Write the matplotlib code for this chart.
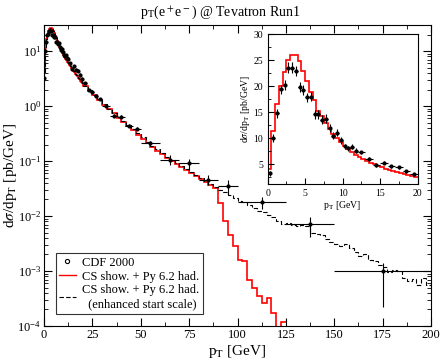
import numpy as np
import matplotlib
matplotlib.use('Agg')
import matplotlib.pyplot as plt
from matplotlib.lines import Line2D
from matplotlib.ticker import MultipleLocator, LogLocator, NullFormatter

plt.rcParams['font.family'] = ['Liberation Serif', 'DejaVu Serif']
plt.rcParams['mathtext.fontset'] = 'stix'

# --- CDF 2000 data, low pT (also shown in the inset) ---
cdf_lo_x = [0.25, 0.75, 1.25, 1.75, 2.25, 2.75, 3.25, 3.75, 4.25, 4.75, 5.25, 5.75,
            6.25, 6.75, 7.25, 7.75, 8.25, 8.75, 9.25, 9.75, 10.25, 10.75, 11.25, 11.75,
            12.5, 13.5, 14.5, 15.5, 16.5, 17.5, 18.5, 19.5]
cdf_lo_xerr = [0.25] * 24 + [0.5] * 8
cdf_lo_y = [3.3, 10.0, 14.8, 19.4, 20.2, 23.6, 23.6, 23.0, 19.9, 19.3, 17.9, 18.0,
            14.6, 14.6, 13.6, 13.8, 12.0, 10.5, 11.1, 9.6, 8.5, 8.1, 8.4, 7.6,
            7.3, 6.1, 4.8, 5.3, 4.6, 4.4, 3.7, 3.1]
cdf_lo_yerr = [0.5, 0.8, 0.9, 0.9, 1.0, 1.0, 1.0, 1.0, 1.0, 0.9, 0.9, 0.9,
               0.8, 0.8, 0.8, 0.8, 0.7, 0.7, 0.7, 0.6, 0.5, 0.5, 0.5, 0.5,
               0.35, 0.35, 0.3, 0.3, 0.3, 0.3, 0.3, 0.3]

# --- CDF 2000 data, high pT ---
cdf_hi_x = [21, 23, 25, 27, 29, 32, 36, 40, 44, 48, 55, 65, 75, 85, 95, 112.5, 137.5, 175]
cdf_hi_xerr = [1, 1, 1, 1, 1, 2, 2, 2, 2, 2, 5, 5, 5, 5, 5, 12.5, 12.5, 25]
cdf_hi_y = [2.6, 2.0, 1.78, 1.55, 1.35, 1.0, 0.67, 0.64, 0.44, 0.39, 0.21, 0.105,
            0.091, 0.045, 0.035, 0.018, 0.0071, 0.001]
cdf_hi_yerr_lo = [0.1, 0.08, 0.07, 0.06, 0.06, 0.05, 0.04, 0.04, 0.03, 0.03, 0.02, 0.02,
                  0.018, 0.008, 0.011, 0.0043, 0.0029, 0.00078]
cdf_hi_yerr_hi = [0.1, 0.08, 0.07, 0.06, 0.06, 0.05, 0.04, 0.04, 0.03, 0.03, 0.02, 0.023,
                  0.019, 0.011, 0.010, 0.0045, 0.0027, 0.00041]

# --- CS shower + Pythia 6.2 hadronisation, 0.5 GeV bins from 0 to 20 ---
cs_low = [4.2, 11.5, 16.6, 20.0, 22.8, 25.0, 26.0, 26.0, 24.8, 23.0, 21.0, 19.0,
          17.3, 15.3, 14.3, 13.0, 11.8, 10.8, 10.0, 9.2, 8.5, 7.9, 7.3, 6.8,
          6.4, 6.0, 5.7, 5.3, 5.0, 4.7, 4.4, 4.2, 3.9, 3.7, 3.5, 3.3, 3.1, 2.9, 2.7, 2.6]

# 2.5 GeV bins from 20 to 125
cs_high = [2.3, 1.9, 1.6, 1.3, 1.05, 0.88, 0.74, 0.61, 0.51, 0.43, 0.36, 0.30,
           0.255, 0.215, 0.18, 0.155, 0.135, 0.115, 0.10, 0.088, 0.077, 0.068, 0.060, 0.053,
           0.047, 0.042, 0.037, 0.032, 0.017, 0.0080, 0.0045, 0.0028, 0.0016, 0.0015, 0.0007, 0.0005,
           0.00035, 0.00026, 0.00032, 0.00017, 0.00005, 0.00012]

# enhanced start scale, 2.5 GeV bins from 20 to 200
cs_enh_high = [2.35, 1.95, 1.62, 1.33, 1.08, 0.90, 0.76, 0.63, 0.53, 0.45, 0.38, 0.32,
               0.27, 0.225, 0.19, 0.165, 0.14, 0.12, 0.105, 0.092, 0.080, 0.071, 0.062, 0.055,
               0.049, 0.043, 0.038, 0.034, 0.030, 0.027, 0.024, 0.021, 0.019, 0.018, 0.016, 0.014,
               0.0125, 0.012, 0.0105, 0.0095, 0.0080, 0.0072, 0.0075, 0.0068, 0.0066, 0.0070, 0.0067, 0.0050,
               0.0048, 0.0046, 0.0038, 0.0034, 0.0031, 0.0028, 0.0031, 0.0026, 0.0022, 0.0019, 0.0020, 0.0016,
               0.0015, 0.0013, 0.0012, 0.00095, 0.00105, 0.0010, 0.00075, 0.00065, 0.00072, 0.00055, 0.00075, 0.00055]

low_edges = np.arange(0, 20.001, 0.5)
cs_edges = np.concatenate([low_edges, np.arange(22.5, 125.001, 2.5)])
enh_edges = np.concatenate([low_edges, np.arange(22.5, 200.001, 2.5)])

fig = plt.figure(figsize=(4.41, 3.61), dpi=100)
ax = fig.add_axes([0.0998, 0.097, 0.8775, 0.834])

ax.stairs(cs_low + cs_high, cs_edges, color='red', lw=1.2, baseline=None)
ax.stairs(cs_low + cs_enh_high, enh_edges, color='black', lw=0.8, ls=(0, (4, 2)), baseline=None)

ax.errorbar(cdf_lo_x, cdf_lo_y, xerr=cdf_lo_xerr, yerr=cdf_lo_yerr, fmt='o', ms=2,
            color='black', elinewidth=0.8, capsize=0)
ax.errorbar(cdf_hi_x, cdf_hi_y, xerr=cdf_hi_xerr, yerr=[cdf_hi_yerr_lo, cdf_hi_yerr_hi],
            fmt='o', ms=2, color='black', elinewidth=0.8, capsize=0)

ax.set_yscale('log')
ax.set_xlim(0, 200)
ax.set_ylim(1e-4, 30)
ax.xaxis.set_major_locator(MultipleLocator(25))
ax.xaxis.set_minor_locator(MultipleLocator(12.5))
ax.yaxis.set_major_locator(LogLocator(base=10, numticks=10))
ax.yaxis.set_minor_locator(LogLocator(base=10, subs=np.arange(2, 10), numticks=20))
ax.yaxis.set_minor_formatter(NullFormatter())
ax.tick_params(which='both', direction='in', top=True, right=True, labelsize=9, pad=2)
ax.tick_params(which='major', length=6)
ax.tick_params(which='minor', length=3)
ax.set_xlabel(r'p$_\mathrm{T}$ [GeV]', fontsize=11)
ax.set_ylabel(r'd$\sigma$/dp$_\mathrm{T}$ [pb/GeV]', fontsize=11)
ax.xaxis.set_label_coords(0.5, -0.055)
ax.yaxis.set_label_coords(-0.065, 0.5)
fig.text(0.5, 0.965, r'p$_\mathrm{T}$(e$^+$e$^-$) @ Tevatron Run1', ha='center', va='center', fontsize=10)

handles = [Line2D([], [], marker='o', ls='none', mfc='none', mec='black', ms=3, mew=0.8),
           Line2D([], [], color='red', lw=1.0),
           Line2D([], [], color='black', lw=0.8, ls=(0, (4, 2)))]
labels = ['CDF 2000', 'CS show. + Py 6.2 had.', 'CS show. + Py 6.2 had.\n  (enhanced start scale)']
leg = ax.legend(handles, labels, loc='lower left', bbox_to_anchor=(0.03, 0.04), fontsize=9,
                frameon=True, fancybox=False, edgecolor='black', handlelength=1.3,
                borderpad=0.3, labelspacing=0.15, handletextpad=0.5, borderaxespad=0)
leg.get_frame().set_linewidth(0.8)

# inset with linear scale
axi = fig.add_axes([0.607, 0.490, 0.340, 0.415])
axi.stairs(cs_low, low_edges, color='red', lw=1.2, baseline=None)
axi.errorbar(cdf_lo_x, cdf_lo_y, xerr=cdf_lo_xerr, yerr=cdf_lo_yerr, fmt='o', ms=2,
             color='black', elinewidth=0.8, capsize=0)
axi.set_xlim(0, 20)
axi.set_ylim(1.2, 30)
axi.xaxis.set_major_locator(MultipleLocator(5))
axi.xaxis.set_minor_locator(MultipleLocator(2.5))
axi.yaxis.set_major_locator(MultipleLocator(5))
axi.yaxis.set_minor_locator(MultipleLocator(2.5))
axi.tick_params(which='both', direction='in', labelsize=7)
axi.tick_params(which='major', length=4)
axi.tick_params(which='minor', length=2)
axi.set_xlabel(r'p$_\mathrm{T}$ [GeV]', fontsize=7, labelpad=1)
axi.set_ylabel(r'd$\sigma$/dp$_\mathrm{T}$ [pb/GeV]', fontsize=7, labelpad=1)

fig.savefig('out.png', dpi=100)
